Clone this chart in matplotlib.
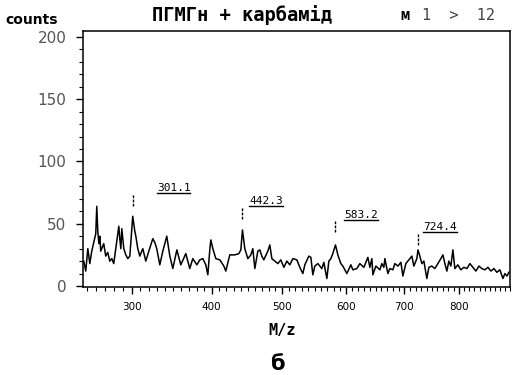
import numpy as np
import matplotlib
matplotlib.use('Agg')
import matplotlib.pyplot as plt
from matplotlib.ticker import MultipleLocator
from matplotlib.lines import Line2D

# spectrum (m/z, counts)
mz = [246.8, 248.9, 251.1, 253.2, 255.3, 257.5, 259.6, 260.7, 261.8, 263.0,
      264.0, 265.0, 266.1, 268.3, 270.5, 272.7, 275.0, 277.2, 279.4, 281.7,
      284.0, 285.1, 286.2, 287.4, 288.5, 290.8, 293.1, 295.4, 297.7, 299.0,
      301.1, 303.5, 304.7, 307.0, 309.4, 312.9, 316.5, 320.1, 324.9, 327.3,
      329.7, 333.4, 337.1, 342.0, 345.8, 349.5, 354.6, 359.6, 366.0, 371.1,
      375.0, 380.3, 384.2, 388.2, 392.1, 394.8, 397.4, 398.8, 401.5, 405.5,
      411.0, 416.4, 419.1, 424.6, 431.6, 437.2, 440.0, 442.3, 445.6, 449.9,
      454.2, 457.0, 459.9, 464.2, 467.1, 470.0, 472.9, 478.8, 481.7, 484.7,
      489.1, 493.6, 498.0, 502.6, 507.1, 511.6, 516.2, 522.3, 526.9, 531.5,
      534.6, 540.8, 544.0, 547.1, 550.2, 555.0, 561.3, 564.5, 569.3, 572.5,
      575.7, 578.9, 583.2, 587.0, 591.9, 595.2, 601.7, 608.4, 611.7, 618.3,
      623.3, 630.1, 635.1, 636.8, 640.2, 643.6, 645.3, 650.4, 657.3, 660.7,
      664.1, 665.9, 671.1, 674.5, 679.8, 683.3, 688.6, 693.9, 697.4, 702.7,
      709.9, 713.4, 717.0, 722.4, 724.4, 727.8, 731.4, 735.1, 740.5, 744.2,
      749.7, 755.2, 760.8, 766.3, 770.1, 773.8, 777.5, 781.2, 785.0, 788.8,
      792.5, 798.2, 803.9, 809.6, 815.4, 821.1, 826.9, 832.7, 838.5, 844.4,
      850.2, 856.1, 862.0, 867.9, 873.8, 879.8, 885.8, 889.8, 893.8, 897.8]
counts = [20, 12, 30, 18, 28, 35, 42, 64, 44, 34,
          40, 28, 30, 34, 24, 27, 20, 22, 18, 30,
          42, 48, 38, 30, 46, 30, 25, 22, 24, 36,
          56, 44, 40, 30, 24, 30, 20, 28, 38, 35,
          30, 17, 28, 40, 24, 14, 29, 17, 26, 14,
          22, 17, 21, 22, 17, 9, 29, 37, 30, 22,
          21, 16, 12, 25, 25, 26, 29, 45, 30, 22,
          25, 30, 14, 28, 29, 24, 21, 28, 33, 22,
          20, 18, 21, 15, 20, 17, 22, 21, 15, 10,
          17, 24, 23, 9, 16, 18, 14, 19, 6, 20,
          22, 26, 33, 25, 18, 16, 10, 17, 13, 14,
          18, 15, 21, 23, 15, 22, 9, 16, 13, 18,
          15, 22, 10, 14, 13, 18, 16, 19, 8, 18,
          22, 24, 16, 22, 29, 24, 18, 20, 6, 15,
          16, 14, 18, 22, 25, 18, 12, 20, 16, 29,
          14, 17, 13, 15, 14, 18, 15, 12, 16, 14,
          13, 15, 12, 14, 11, 13, 6, 10, 8, 11]

peak_mz = [301.1, 442.3, 583.2, 724.4]
peak_labels = ['301.1', '442.3', '583.2', '724.4']
x_ticks = [300, 400, 500, 600, 700, 800]
y_ticks = [0, 50, 100, 150, 200]

fig = plt.figure(figsize=(5.15, 3.75), dpi=100)
W, H = 515, 375
ax = fig.add_axes([83 / W, 1 - 287 / H, (510 - 83) / W, (287 - 31) / H])

# sector instrument: m/z axis goes like sqrt(m)
ax.set_xscale('function', functions=(lambda v: np.sqrt(np.clip(v, 0, None)),
                                     lambda v: np.square(v)))
ax.plot(mz, counts, color='black', lw=1.1)
ax.set_xlim(246, 900)
ax.set_ylim(-0.8, 204.8)

ax.set_xticks(x_ticks, labels=[str(t) for t in x_ticks])
ax.set_yticks(y_ticks, labels=[str(t) for t in y_ticks])
ax.xaxis.set_minor_locator(MultipleLocator(10))
ax.yaxis.set_minor_locator(MultipleLocator(10))
ax.tick_params(which='major', direction='out', length=5, width=1)
ax.tick_params(which='minor', direction='out', length=3, width=0.8)
ax.tick_params(axis='y', labelsize=11, labelcolor='#555555', pad=7)
ax.tick_params(axis='x', labelsize=7.5, pad=6)
for s in ax.spines.values():
    s.set_linewidth(1.1)

# peak markers and labels
tops = [74, 63.7, 52.6, 42.2]
dxs = [24, 7, 9, 5]
texts = []
for p, lab, top, dx in zip(peak_mz, peak_labels, tops, dxs):
    ax.vlines(p, top - 9.5, top, color='black', lw=1, linestyles=(0, (2, 1)))
    t = ax.annotate(lab, xy=(p, top), xytext=(dx, 3), textcoords='offset pixels',
                    fontsize=8, family='DejaVu Sans Mono', va='baseline', ha='left')
    texts.append(t)

fig.text(5 / W, 1 - 20 / H, 'counts', fontsize=10, fontweight='bold',
         ha='left', va='center')
fig.text(242 / W, 1 - 15 / H, 'ПГМГн + карбамід', fontsize=13.5,
         family='DejaVu Sans Mono', fontweight='bold', ha='center', va='center')
fig.text(400 / W, 1 - 16 / H, 'м', fontsize=11, fontweight='bold',
         family='DejaVu Sans Mono', ha='left', va='center')
fig.text(422 / W, 1 - 15 / H, '1  >  12', fontsize=11, family='DejaVu Sans Mono',
         color='#444444', ha='left', va='center')
fig.text(282 / W, 1 - 330 / H, 'M/z', fontsize=11, fontweight='bold',
         family='DejaVu Sans Mono', ha='center', va='center')
fig.text(277 / W, 1 - 364 / H, 'б', fontsize=15, fontweight='bold',
         ha='center', va='center')

# underline the peak labels
fig.canvas.draw()
r = fig.canvas.get_renderer()
for t in texts:
    bb = t.get_window_extent(r)
    fig.add_artist(Line2D([bb.x0, bb.x1], [bb.y0, bb.y0], transform=None,
                          color='black', lw=1))

fig.savefig('out.png', dpi=100)
